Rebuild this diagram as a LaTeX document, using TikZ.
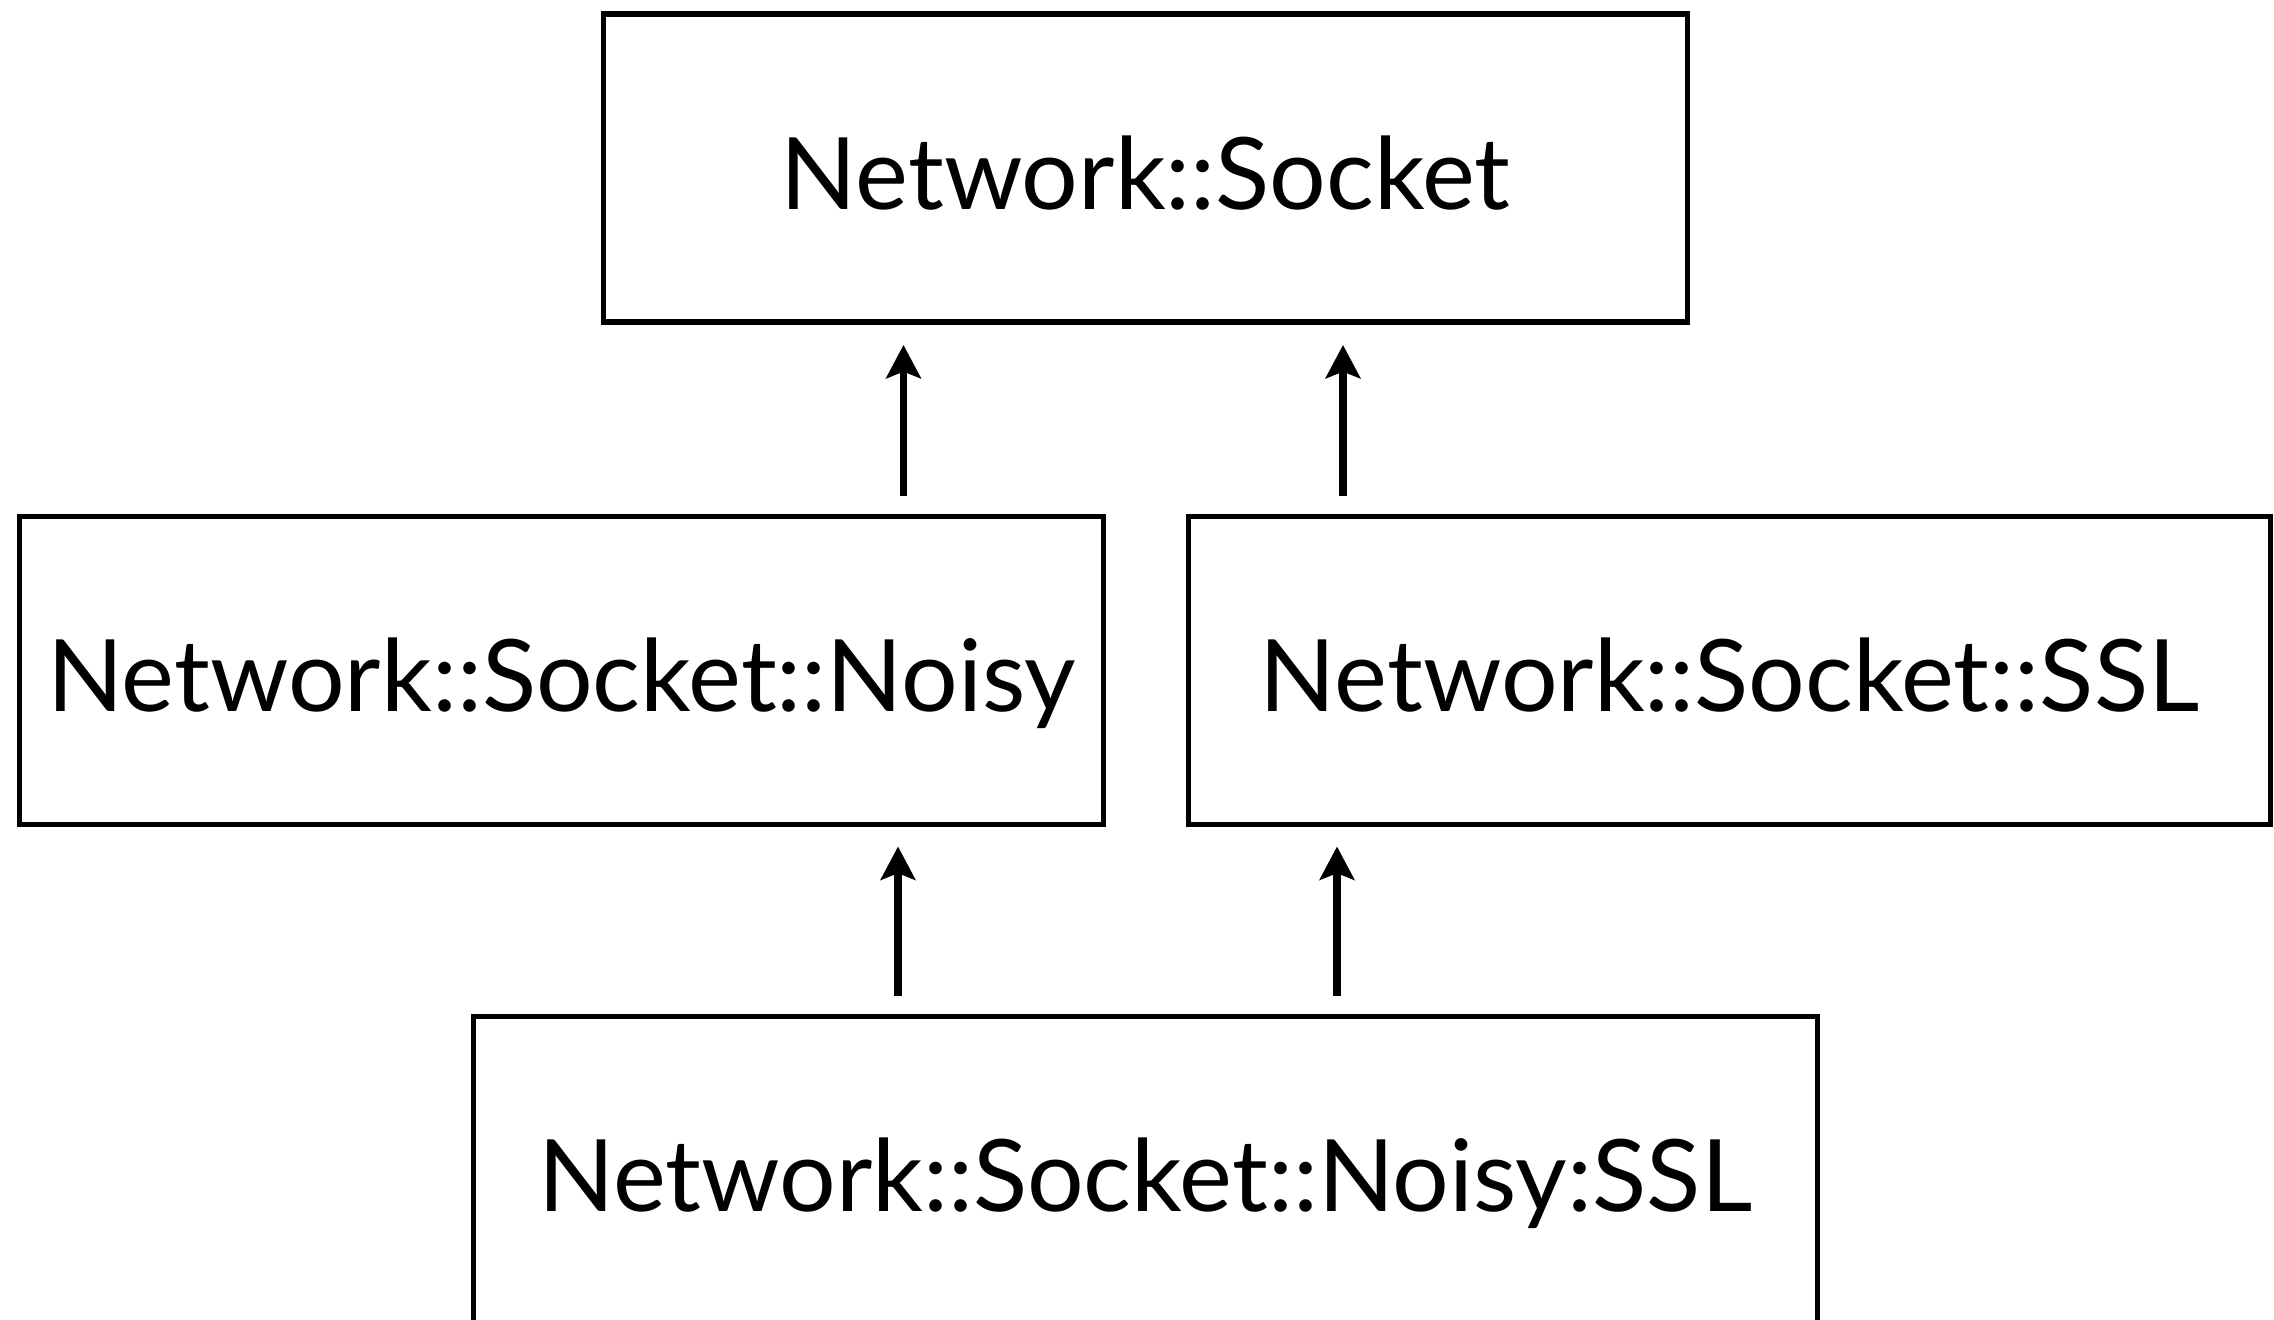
\documentclass[tikz,border=0pt]{standalone}
\usepackage{fontspec}
\setmainfont{Lato}
\usetikzlibrary{arrows.meta}
\begin{document}
\begin{tikzpicture}[x=0.75pt,y=-0.75pt,
  cls/.style={draw=black,line width=3.75pt,rectangle,inner sep=0pt,
    minimum width=813pt,minimum height=231pt,
    text height=61.5pt,text depth=0pt,
    font=\fontsize{75}{90}\selectfont},
  arr/.style={line width=5.5pt,-{Stealth[length=25pt,width=26pt,inset=5pt]}}]
\useasboundingbox (0,0) rectangle (2274,1320);
\clip (0,0) rectangle (2274,1320);
\node[cls,line width=4.4pt] (sock) at (1145.5,168) {Network::Socket};
\node[cls] (noisy) at (561.5,670) {Network::Socket::Noisy};
\node[cls,minimum width=812pt] (ssl) at (1729.5,670) {Network::Socket::SSL};
\node[cls,minimum width=1008pt] (nssl) at (1145,1170) {Network::Socket::Noisy:SSL};
\draw[arr] (903.5,0 |- noisy.north) ++(0,-18) -- ([yshift=-15pt]903.5,0 |- sock.south);
\draw[arr] (1343,0 |- ssl.north) ++(0,-18) -- ([yshift=-15pt]1343,0 |- sock.south);
\draw[arr] (898,0 |- nssl.north) ++(0,-18) -- ([yshift=-15pt]898,0 |- noisy.south);
\draw[arr] (1337,0 |- nssl.north) ++(0,-18) -- ([yshift=-15pt]1337,0 |- ssl.south);
\end{tikzpicture}
\end{document}
